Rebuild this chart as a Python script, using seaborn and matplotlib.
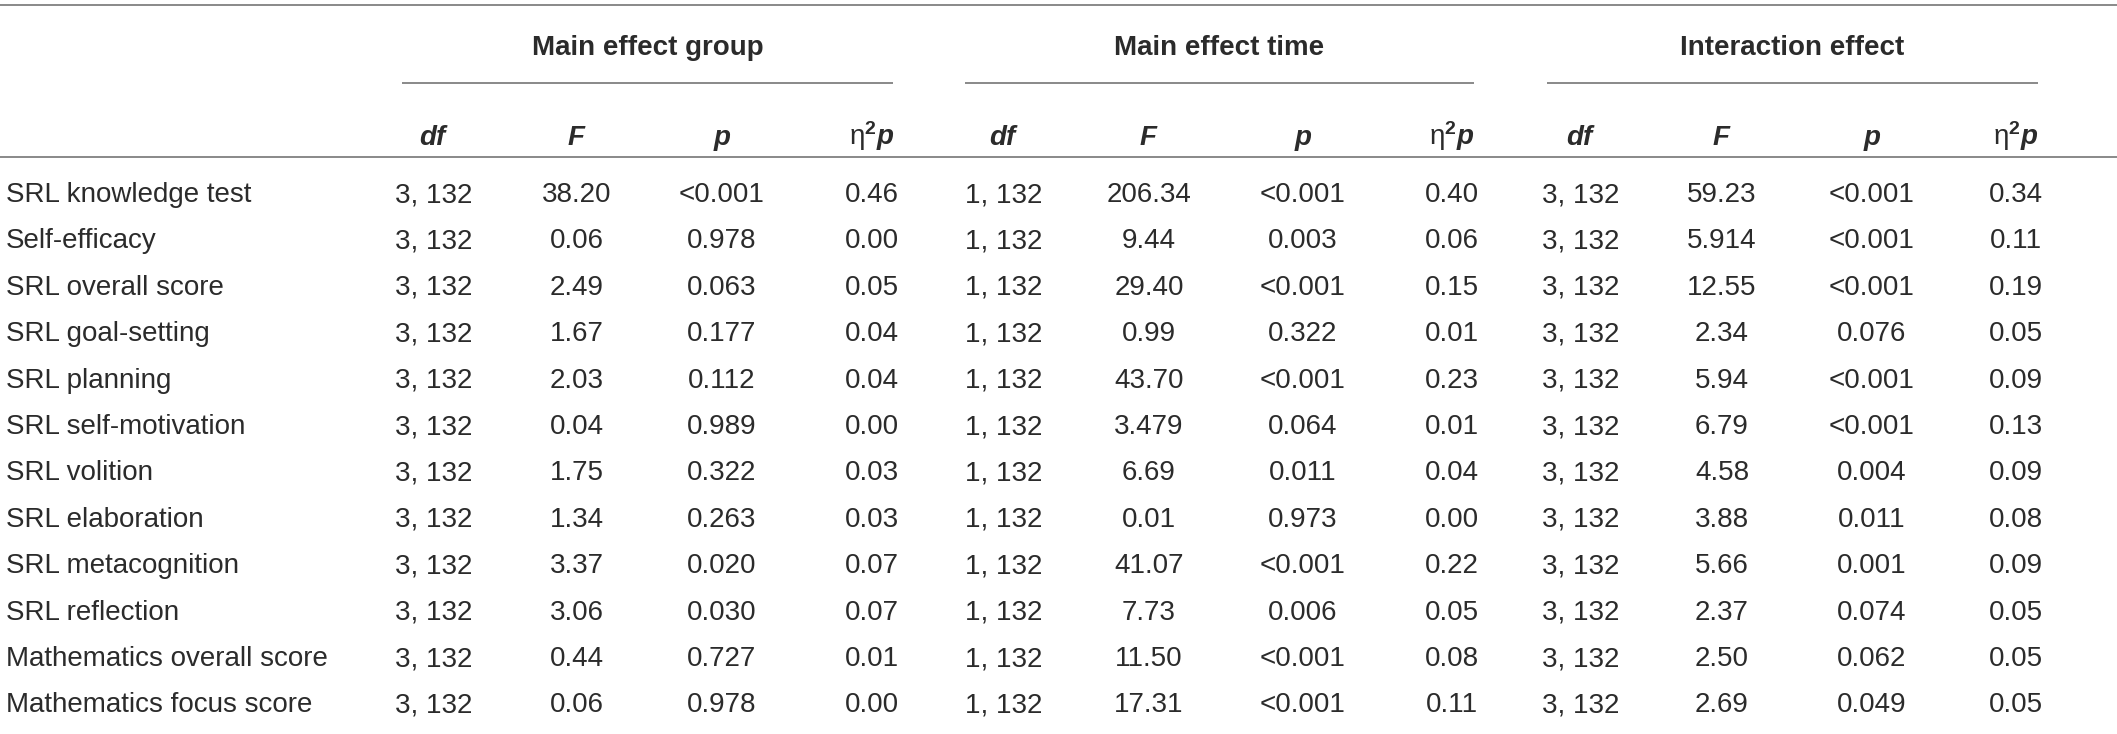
import matplotlib
matplotlib.use("Agg")
import matplotlib.pyplot as plt
import seaborn as sns
import pandas as pd

# ---------------- data ----------------
measures = ["SRL knowledge test", "Self-efficacy", "SRL overall score", "SRL goal-setting",
            "SRL planning", "SRL self-motivation", "SRL volition", "SRL elaboration",
            "SRL metacognition", "SRL reflection", "Mathematics overall score",
            "Mathematics focus score"]

group_df = ["3, 132"] * 12
group_F = ["38.20", "0.06", "2.49", "1.67", "2.03", "0.04", "1.75", "1.34", "3.37", "3.06", "0.44", "0.06"]
group_p = ["<0.001", "0.978", "0.063", "0.177", "0.112", "0.989", "0.322", "0.263", "0.020", "0.030", "0.727", "0.978"]
group_eta = ["0.46", "0.00", "0.05", "0.04", "0.04", "0.00", "0.03", "0.03", "0.07", "0.07", "0.01", "0.00"]

time_df = ["1, 132"] * 12
time_F = ["206.34", "9.44", "29.40", "0.99", "43.70", "3.479", "6.69", "0.01", "41.07", "7.73", "11.50", "17.31"]
time_p = ["<0.001", "0.003", "<0.001", "0.322", "<0.001", "0.064", "0.011", "0.973", "<0.001", "0.006", "<0.001", "<0.001"]
time_eta = ["0.40", "0.06", "0.15", "0.01", "0.23", "0.01", "0.04", "0.00", "0.22", "0.05", "0.08", "0.11"]

inter_df = ["3, 132"] * 12
inter_F = ["59.23", "5.914", "12.55", "2.34", "5.94", "6.79", "4.58", "3.88", "5.66", "2.37", "2.50", "2.69"]
inter_p = ["<0.001", "<0.001", "<0.001", "0.076", "<0.001", "<0.001", "0.004", "0.011", "0.001", "0.074", "0.062", "0.049"]
inter_eta = ["0.34", "0.11", "0.19", "0.05", "0.09", "0.13", "0.09", "0.08", "0.09", "0.05", "0.05", "0.05"]

group_titles = ["Main effect group", "Main effect time", "Interaction effect"]
col_titles = ["df", "F", "p", "eta"]

table = pd.DataFrame({
    "g_df": group_df, "g_F": group_F, "g_p": group_p, "g_eta": group_eta,
    "t_df": time_df, "t_F": time_F, "t_p": time_p, "t_eta": time_eta,
    "i_df": inter_df, "i_F": inter_F, "i_p": inter_p, "i_eta": inter_eta,
}, index=measures)

# ---------------- style ----------------
sns.set_theme(style="white")
plt.rcParams["font.family"] = ["Liberation Sans", "DejaVu Sans"]
plt.rcParams["mathtext.fontset"] = "custom"
plt.rcParams["mathtext.rm"] = "Liberation Sans"
plt.rcParams["mathtext.it"] = "Liberation Sans:italic"
plt.rcParams["mathtext.bf"] = "Liberation Sans:bold"
plt.rcParams["mathtext.bfit"] = "Liberation Sans:bold:italic"

TXT = "#2b2b2b"
LINE = "#808080"
FS = 20
HALF_CAP = 10  # half the cap height in pixels, for baseline alignment

W, H = 2117, 734
fig = plt.figure(figsize=(W / 100, H / 100), dpi=100)
ax = fig.add_axes([0, 0, 1, 1])
ax.set_xlim(0, W)
ax.set_ylim(H, 0)
ax.axis("off")

# layout
col_x = [434, 577, 722, 872, 1004, 1149, 1303, 1452, 1581, 1722, 1872, 2016]
grp_span = [(402, 893), (965, 1474), (1547, 2038)]
y_top, y_grp, y_grp_line, y_col, y_head_line = 5, 45, 83, 135, 157
row_y0, row_dy = 192, 46.4
label_x = 6

lw = 1.3
ax.plot([0, W], [y_top, y_top], color=LINE, lw=lw, solid_capstyle="butt")
ax.plot([0, W], [y_head_line, y_head_line], color=LINE, lw=lw, solid_capstyle="butt")

for g, title in enumerate(group_titles):
    x0, x1 = grp_span[g]
    ax.plot([x0, x1], [y_grp_line, y_grp_line], color=LINE, lw=lw, solid_capstyle="butt")
    ax.text((x0 + x1) / 2, y_grp + HALF_CAP, title, ha="center", va="baseline",
            fontsize=FS, fontweight="bold", color=TXT)
    for c, ct in enumerate(col_titles):
        x = col_x[g * 4 + c]
        if ct == "eta":
            s = r"$\mathrm{\eta}^{\mathbf{2}}\mathbfit{p}$"
        else:
            s = r"$\mathbfit{%s}$" % ct
        ax.text(x, y_col + HALF_CAP, s, ha="center", va="baseline", fontsize=FS, color=TXT)

for r, name in enumerate(table.index):
    y = row_y0 + r * row_dy + HALF_CAP
    ax.text(label_x, y, name, ha="left", va="baseline", fontsize=FS, color=TXT)
    for c, col in enumerate(table.columns):
        ax.text(col_x[c], y, table.loc[name, col], ha="center", va="baseline",
                fontsize=FS, color=TXT)

fig.savefig("out.png", dpi=100, facecolor="white")
